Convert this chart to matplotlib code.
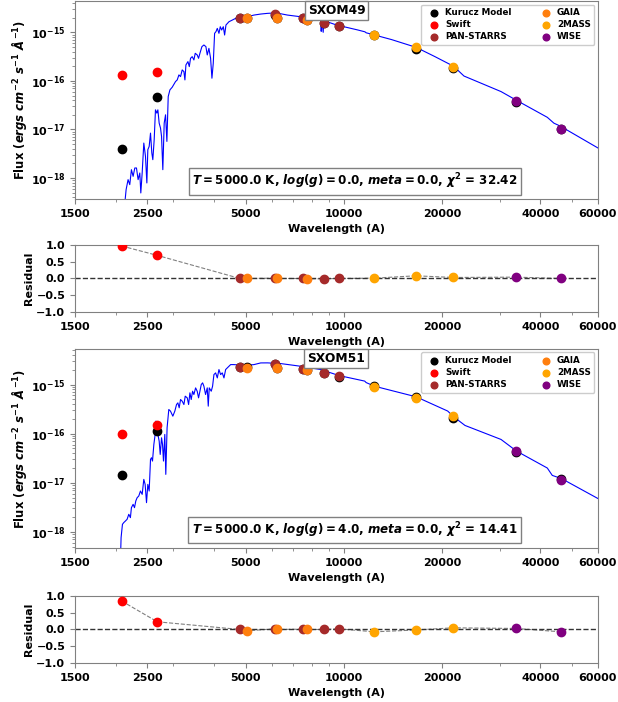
import matplotlib
matplotlib.use("Agg")
import matplotlib.pyplot as plt
import numpy as np
from matplotlib.ticker import FixedLocator, FixedFormatter, NullFormatter, LogLocator

plt.rcParams["font.family"] = ["DejaVu Sans"]
plt.rcParams["font.weight"] = "bold"
plt.rcParams["axes.labelweight"] = "bold"
plt.rcParams["mathtext.fontset"] = "custom"
plt.rcParams["mathtext.rm"] = "DejaVu Sans:bold"
plt.rcParams["mathtext.it"] = "DejaVu Sans:italic:bold"
plt.rcParams["mathtext.bf"] = "DejaVu Sans:bold"

# ---- photometry wavelengths (A) ----
wl_swift = [2085, 2680]
wl_ps = [4800, 6140, 7480, 8680, 9640]
wl_gaia = [5050, 6250, 7720]
wl_2mass = [12400, 16600, 21650]
wl_wise = [33700, 46300]

# ---- SXOM49 observed flux and residuals ----
f49_swift = [1.33e-16, 1.53e-16]
f49_ps = [1.97e-15, 2.34e-15, 1.97e-15, 1.53e-15, 1.33e-15]
f49_gaia = [1.97e-15, 1.97e-15, 1.79e-15]
f49_2mass = [8.7e-16, 5.0e-16, 1.9e-16]
f49_wise = [3.83e-17, 1.02e-17]
r49_swift = [0.97, 0.69]
r49_ps = [0.0, 0.01, 0.0, -0.01, 0.0]
r49_gaia = [0.0, 0.0, -0.01]
r49_2mass = [0.01, 0.08, 0.03]
r49_wise = [0.04, 0.0]

# ---- SXOM51 observed flux and residuals ----
f51_swift = [9.8e-17, 1.49e-16]
f51_ps = [2.32e-15, 2.63e-15, 2.09e-15, 1.70e-15, 1.48e-15]
f51_gaia = [2.2e-15, 2.15e-15, 1.95e-15]
f51_2mass = [8.8e-16, 5.37e-16, 2.24e-16]
f51_wise = [4.37e-17, 1.12e-17]
r51_swift = [0.85, 0.23]
r51_ps = [0.0, 0.02, 0.01, 0.0, 0.02]
r51_gaia = [-0.04, 0.0, 0.0]
r51_2mass = [-0.07, -0.015, 0.05]
r51_wise = [0.03, -0.07]

# ---- Kurucz model spectra (wavelength, log10 flux) ----
spec49_wl = [2105, 2151, 2181, 2207, 2233, 2260, 2287, 2314, 2341, 2369, 2386, 2409, 2437,
             2466, 2490, 2507, 2531, 2555, 2579, 2597, 2622, 2646, 2672, 2691, 2716, 2742,
             2762, 2787, 2814, 2841, 2868, 2895, 2930, 2978, 3048, 3085, 3122, 3158, 3195,
             3234, 3257, 3280, 3327, 3359, 3389, 3429, 3470, 3503, 3552, 3586, 3621, 3672,
             3724, 3777, 3813, 3858, 3904, 3941, 3978, 4016, 4054, 4093, 4141, 4180, 4221,
             4270, 4310, 4351, 4444, 4550, 4659, 4827, 5060, 5302, 5560, 5830, 6200, 6715,
             7376, 8000, 8492, 8520, 8560, 8640, 8680, 9500, 11000, 11600, 11700, 12410,
             14000, 16650, 19000, 21700, 22500, 23330, 30300, 33800, 42000, 44000, 46000,
             60000]
spec49_lf = [-18.9, -18.238, -18.033, -18.136, -17.828, -17.965, -17.793, -17.793, -18.033,
             -17.896, -18.307, -17.896, -17.280, -17.554, -18.101, -17.417, -17.349, -17.075,
             -17.486, -17.622, -17.212, -16.596, -16.664, -16.596, -16.870, -16.972, -17.143,
             -17.828, -16.870, -16.698, -17.246, -16.322, -16.185, -16.130, -16.014, -15.980,
             -15.877, -15.911, -15.774, -15.809, -15.980, -15.672, -15.603, -15.706, -15.535,
             -15.501, -15.569, -15.432, -15.466, -15.535, -15.432, -15.295, -15.261, -15.295,
             -15.466, -15.330, -15.535, -15.945, -15.637, -15.021, -14.987, -14.919, -15.021,
             -14.885, -14.953, -14.885, -15.056, -14.850, -14.782, -14.748, -14.713, -14.693,
             -14.679, -14.645, -14.624, -14.610, -14.600, -14.645, -14.680, -14.710, -14.735,
             -14.980, -14.750, -15.000, -14.760, -14.850, -14.950, -14.990, -15.010, -15.055,
             -15.150, -15.310, -15.500, -15.700, -15.800, -15.900, -16.220, -16.400, -16.750,
             -16.870, -16.930, -17.380]

spec51_wl = [2060, 2076, 2096, 2115, 2141, 2166, 2192, 2217, 2233, 2260, 2282, 2303, 2325,
             2352, 2380, 2409, 2437, 2460, 2484, 2507, 2531, 2555, 2573, 2591, 2616, 2640,
             2653, 2672, 2691, 2716, 2736, 2762, 2781, 2800, 2826, 2846, 2872, 2907, 2942,
             2991, 3033, 3070, 3099, 3128, 3158, 3195, 3234, 3264, 3311, 3343, 3374, 3405,
             3438, 3470, 3512, 3552, 3586, 3621, 3655, 3690, 3724, 3768, 3813, 3840, 3867,
             3922, 3959, 3997, 4045, 4093, 4141, 4190, 4239, 4290, 4341, 4392, 4497, 4604,
             4827, 5060, 5302, 5560, 5830, 6400, 7376, 8492, 9660, 11580, 11700, 12410,
             16650, 20800, 21700, 23500, 30300, 33800, 42000, 43500, 46500, 60000]
spec51_lf = [-18.9, -18.117, -17.846, -17.812, -17.778, -17.744, -17.642, -17.710, -17.507,
             -17.439, -17.507, -17.371, -17.304, -17.270, -17.168, -17.236, -16.931, -17.033,
             -17.405, -17.033, -17.168, -16.524, -16.490, -16.558, -16.220, -16.016, -15.745,
             -15.813, -16.016, -16.152, -16.423, -16.084, -16.220, -16.558, -16.016, -16.829,
             -15.881, -15.508, -15.542, -15.644, -15.542, -15.407, -15.373, -15.474, -15.305,
             -15.339, -15.407, -15.237, -15.271, -15.407, -15.169, -15.305, -15.136, -15.203,
             -15.068, -15.136, -15.271, -15.136, -15.000, -14.966, -15.034, -15.203, -15.068,
             -15.440, -15.068, -15.136, -15.034, -14.797, -14.763, -14.865, -14.695, -14.797,
             -14.763, -14.865, -14.695, -14.661, -14.594, -14.594, -14.607, -14.607, -14.594,
             -14.560, -14.559, -14.573, -14.628, -14.695, -14.817, -14.930, -14.960, -15.034,
             -15.250, -15.540, -15.657, -15.833, -16.118, -16.355, -16.700, -16.850, -16.917,
             -17.320]

names = ["Swift", "PAN-STARRS", "GAIA", "2MASS", "WISE"]
colors = ["red", "brown", "#ff7f0e", "orange", "purple"]
wls = [wl_swift, wl_ps, wl_gaia, wl_2mass, wl_wise]

stars = [
    dict(name="SXOM49", spec=(spec49_wl, spec49_lf),
         flux=[f49_swift, f49_ps, f49_gaia, f49_2mass, f49_wise],
         res=[r49_swift, r49_ps, r49_gaia, r49_2mass, r49_wise],
         ylim=(3.7e-19, 4.4e-15),
         label=r"$T = 5000.0$ K, $log(g) = 0.0$, $meta = 0.0$, $\chi^2$ = 32.42"),
    dict(name="SXOM51", spec=(spec51_wl, spec51_lf),
         flux=[f51_swift, f51_ps, f51_gaia, f51_2mass, f51_wise],
         res=[r51_swift, r51_ps, r51_gaia, r51_2mass, r51_wise],
         ylim=(4.7e-19, 5.3e-15),
         label=r"$T = 5000.0$ K, $log(g) = 4.0$, $meta = 0.0$, $\chi^2$ = 14.41"),
]

xticks = [1500, 2500, 5000, 10000, 20000, 40000, 60000]
fs = 8


def style_x(ax):
    ax.set_xscale("log")
    ax.set_xlim(1500, 60000)
    ax.xaxis.set_major_locator(FixedLocator(xticks))
    ax.xaxis.set_major_formatter(FixedFormatter([str(t) for t in xticks]))
    ax.xaxis.set_minor_formatter(NullFormatter())
    ax.set_xlabel("Wavelength (A)", fontsize=fs)
    for s in ax.spines.values():
        s.set_color("gray")
    ax.tick_params(which="both", colors="gray", labelcolor="black", labelsize=fs)


fig = plt.figure(figsize=(6.18, 7.02), dpi=100)
pos = [(0.7165, 0.282), (0.5556, 0.0954), (0.2194, 0.2835), (0.0556, 0.0954)]

for i, st in enumerate(stars):
    ax = fig.add_axes([0.1214, pos[2 * i][0], 0.846, pos[2 * i][1]])
    rax = fig.add_axes([0.1214, pos[2 * i + 1][0], 0.846, pos[2 * i + 1][1]])

    swl, slf = st["spec"]
    ax.plot(swl, 10 ** np.array(slf), color="blue", lw=0.8, zorder=1)

    # model photometry = observed * (1 - residual)
    for w, f, r in zip(wls, st["flux"], st["res"]):
        mod = np.array(f) * (1 - np.array(r))
        ax.scatter(w, mod, color="black", s=36, zorder=2)
    ax.scatter([], [], color="black", s=36, label="Kurucz Model")
    for w, f, c, n in zip(wls, st["flux"], colors, names):
        ax.scatter(w, f, color=c, s=36, zorder=3, label=n)

    ax.set_yscale("log")
    ax.set_ylim(*st["ylim"])
    ax.yaxis.set_major_locator(FixedLocator([1e-18, 1e-17, 1e-16, 1e-15]))
    ax.yaxis.set_major_formatter(FixedFormatter([r"$\mathbf{10^{-18}}$", r"$\mathbf{10^{-17}}$",
                                                 r"$\mathbf{10^{-16}}$", r"$\mathbf{10^{-15}}$"]))
    ax.yaxis.set_minor_locator(LogLocator(base=10, subs=np.arange(2, 10)))
    ax.yaxis.set_minor_formatter(NullFormatter())
    style_x(ax)
    ax.set_ylabel(r"Flux ($ergs\ cm^{-2}\ s^{-1}\ Å^{-1}$)", fontsize=8.4, labelpad=1)

    h, l = ax.get_legend_handles_labels()
    order = ["Kurucz Model", "Swift", "PAN-STARRS", "GAIA", "2MASS", "WISE"]
    hh = [h[l.index(o)] for o in order]
    ax.legend(hh, order, loc="upper right", ncol=2, fontsize=6.3, markerscale=0.8,
              framealpha=1, handletextpad=0.3, columnspacing=2.9, borderaxespad=0.4,
              labelspacing=0.35)

    ax.text(0.5, 0.952, st["name"], transform=ax.transAxes, ha="center", va="center",
            fontsize=8.8, fontweight="bold",
            bbox=dict(facecolor="white", edgecolor="gray", boxstyle="square,pad=0.25"))
    ax.text(0.535, 0.09, st["label"], transform=ax.transAxes, ha="center", va="center",
            fontsize=8.6, fontweight="bold",
            bbox=dict(facecolor="white", edgecolor="gray", boxstyle="square,pad=0.3"))

    # residual panel
    all_w = np.concatenate([np.array(w, float) for w in wls])
    all_r = np.concatenate([np.array(r, float) for r in st["res"]])
    idx = np.argsort(all_w)
    rax.plot(all_w[idx], all_r[idx], ls="--", color="gray", lw=0.8, zorder=1)
    rax.axhline(0, ls="--", color="#333333", lw=1, zorder=1)
    for w, r, c in zip(wls, st["res"], colors):
        rax.scatter(w, r, color=c, s=36, zorder=3)
    rax.set_ylim(-1, 1)
    rax.set_yticks([-1.0, -0.5, 0.0, 0.5, 1.0])
    style_x(rax)
    rax.set_ylabel("Residual", fontsize=fs, labelpad=2)

fig.savefig("out.png", dpi=100)
